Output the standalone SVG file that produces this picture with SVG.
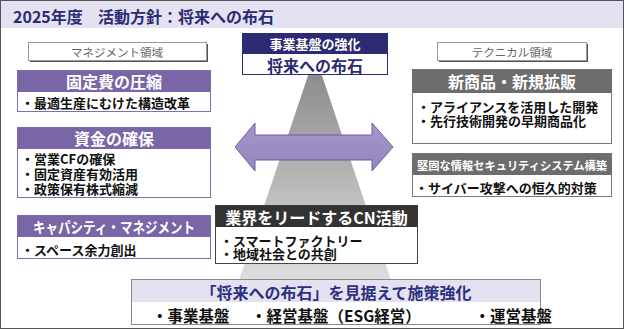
<svg xmlns="http://www.w3.org/2000/svg" width="624" height="329" viewBox="0 0 624 329">
<defs>
<linearGradient id="pyr" x1="0" y1="0" x2="0" y2="1">
<stop offset="0" stop-color="#858585"/>
<stop offset="1" stop-color="#dedede"/>
</linearGradient>
<linearGradient id="arr" x1="0" y1="0" x2="0" y2="1">
<stop offset="0" stop-color="#a497c9"/>
<stop offset="1" stop-color="#9486bf"/>
</linearGradient>
<style>
text{font-family:"Noto Sans CJK JP","Noto Sans",sans-serif;dominant-baseline:central}
.t{font-size:16px;font-weight:700;fill:#2b2a72}
.hw{fill:#fff;font-weight:700;text-anchor:middle}
.b{font-size:13px;font-weight:700;fill:#111}
.bb{font-size:15.5px;font-weight:700;fill:#111}
.lbl{font-size:11.5px;fill:#666;text-anchor:middle}
.pb{fill:#fff;stroke:#8070b0;stroke-width:1}
.ph{fill:#7866a6}
.gb{fill:#fff;stroke:#777;stroke-width:1}
.gh{fill:#6d6d6d}
</style>
</defs>
<rect x="0.5" y="0.5" width="623" height="328" fill="#fff" stroke="#555"/>
<rect x="1" y="1" width="622" height="27" fill="#e4e2f1"/>
<text class="t" x="13" y="15.5">2025年度</text>
<text class="t" x="98" y="15.5" font-size="15.5">活動方針：将来への布石</text>

<g id="pyramid">
<polygon points="315,55 239,280 391,280" fill="url(#pyr)"/>
</g>

<g id="connectors">
<polygon points="235,147 255,123 255,135 372,135 372,123 393,147 372,171 372,160 255,160 255,171" fill="url(#arr)" stroke="#6e5fa6" stroke-width="1"/>
</g>

<g id="top-center">
<rect x="242.5" y="33.5" width="145" height="41" fill="#fff" stroke="#2b2a72"/>
<rect x="242.5" y="33.5" width="145" height="20.5" fill="#2b2a72"/>
<text class="hw" x="315" y="43.5" font-size="13">事業基盤の強化</text>
<text x="315" y="64.5" font-size="16" font-weight="700" fill="#2b2a72" text-anchor="middle">将来への布石</text>
</g>

<g id="label-management">
<rect x="30" y="44" width="178" height="18" fill="#555"/>
<rect x="28.5" y="42.5" width="178" height="18" fill="#fff" stroke="#999"/>
<text class="lbl" x="117" y="51.5">マネジメント領域</text>
</g>

<g id="label-technical">
<rect x="439" y="44" width="149" height="18" fill="#555"/>
<rect x="437.5" y="42.5" width="149" height="18" fill="#fff" stroke="#999"/>
<text class="lbl" x="512" y="51.5">テクニカル領域</text>
</g>

<g id="fixed-cost">
<rect class="pb" x="17.5" y="70.5" width="193" height="41"/>
<rect class="ph" x="17.5" y="70.5" width="193" height="21.5"/>
<text class="hw" x="114" y="81" font-size="16">固定費の圧縮</text>
<text class="b" x="21" y="102">・最適生産にむけた構造改革</text>
</g>

<g id="funds">
<rect class="pb" x="17.5" y="127.5" width="193" height="70"/>
<rect class="ph" x="17.5" y="127.5" width="193" height="21.5"/>
<text class="hw" x="114" y="138" font-size="16">資金の確保</text>
<text class="b" x="21" y="158">・営業CFの確保</text>
<text class="b" x="21" y="173">・固定資産有効活用</text>
<text class="b" x="21" y="188">・政策保有株式縮減</text>
</g>

<g id="capacity">
<rect class="pb" x="17.5" y="215.5" width="193" height="43"/>
<rect class="ph" x="17.5" y="215.5" width="193" height="21.5"/>
<text class="hw" x="114" y="226.5" font-size="15" textLength="162" lengthAdjust="spacingAndGlyphs">キャパシティ・マネジメント</text>
<text class="b" x="21" y="249">・スペース余力創出</text>
</g>

<g id="new-products">
<rect class="gb" x="412.5" y="69.5" width="199" height="74"/>
<rect class="gh" x="412.5" y="69.5" width="199" height="23.5"/>
<text class="hw" x="512" y="81" font-size="16">新商品・新規拡販</text>
<text class="b" x="417" y="106">・アライアンスを活用した開発</text>
<text class="b" x="417" y="120.5">・先行技術開発の早期商品化</text>
</g>

<g id="security">
<rect class="gb" x="412.5" y="153.5" width="199" height="43"/>
<rect class="gh" x="412.5" y="153.5" width="199" height="21.5"/>
<text class="hw" x="512" y="164.5" font-size="11.8" textLength="190" lengthAdjust="spacingAndGlyphs">堅固な情報セキュリティシステム構築</text>
<text class="b" x="415" y="187">・サイバー攻撃への恒久的対策</text>
</g>

<g id="cn-activity">
<rect x="215.5" y="205.5" width="202" height="58" fill="#fff" stroke="#444"/>
<rect x="215.5" y="205.5" width="202" height="21.5" fill="#333"/>
<text class="hw" x="316.5" y="216.5" font-size="16">業界をリードするCN活動</text>
<text class="b" x="220" y="240" font-size="12.5">・スマートファクトリー</text>
<text class="b" x="220" y="253" font-size="12.5">・地域社会との共創</text>
</g>

<g id="bottom">
<rect x="131.5" y="279.5" width="409" height="45" fill="#fff" stroke="#888"/>
<rect x="132" y="280" width="408" height="22" fill="#e4e2f1"/>
<text x="336" y="291.5" font-size="16" font-weight="700" fill="#2b3080" text-anchor="middle">「将来への布石」を見据えて施策強化</text>
<text class="bb" x="152" y="314.5">・事業基盤</text>
<text class="bb" x="251" y="314.5">・経営基盤（ESG経営）</text>
<text class="bb" x="474.5" y="314.5">・運営基盤</text>
</g>
</svg>
